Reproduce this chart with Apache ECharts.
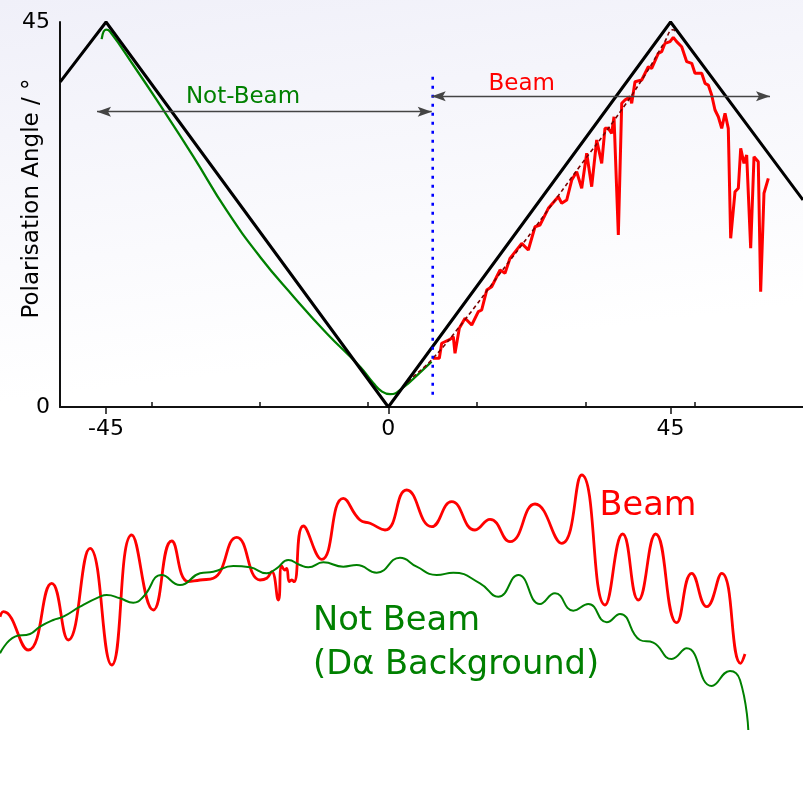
<!DOCTYPE html>
<html><head><meta charset="utf-8">
<script src="https://cdn.jsdelivr.net/npm/echarts@6/dist/echarts.min.js"></script>
<style>html,body{margin:0;padding:0;background:#fff}#c{width:803px;height:792px}</style>
</head><body><div id="c"></div>
<script>
// ---- tick labels ----
const xTickLabels = [-45, 0, 45];
const xMinorTicks = [-37.67, -20.45, -3.24, 14.14, 31.52, 48.89];
const yTickLabels = [0, 45];

// ---- top panel: polarisation angle ----
const modelLine = [[-52.3, 38.0], [-45, 45], [0, 0], [45, 45], [66.1, 24.2]];
const notBeamAngle = [[-45.7, 43.0], [-45.0, 44.1], [-44.4, 43.9], [-40.5, 39.8], [-36.4, 35.3], [-31.1, 29.3],
  [-25.8, 23.0], [-20.5, 17.6], [-15.1, 12.9], [-9.8, 8.6], [-4.5, 4.7], [-2.4, 2.8], [-1.0, 1.8],
  [0.3, 1.5], [2.4, 2.3], [5.0, 4.0], [6.9, 5.3]];
const beamAngle = [[7.08, 5.69], [8.13, 5.69], [8.51, 7.45], [9.84, 7.91], [10.36, 8.22], [10.63, 6.28],
  [11.32, 9.20], [12.23, 10.37], [13.30, 9.58], [14.35, 11.14], [14.89, 11.34], [15.69, 13.67],
  [16.48, 14.06], [17.81, 16.01], [18.60, 15.63], [19.40, 17.38], [21.27, 19.13], [22.32, 18.35],
  [23.39, 21.07], [24.18, 21.27], [25.51, 23.22], [27.10, 24.58], [27.64, 23.81], [28.44, 24.19],
  [29.24, 26.53], [30.03, 27.50], [30.83, 25.56], [31.63, 29.65], [32.42, 25.75], [33.22, 31.21],
  [34.02, 28.48], [34.54, 32.57], [35.07, 32.57], [35.61, 31.99], [35.98, 33.93], [36.67, 20.10],
  [37.21, 35.50], [37.73, 35.88], [38.53, 36.27], [38.80, 35.50], [39.33, 38.02], [40.40, 38.22],
  [41.45, 39.77], [41.99, 39.59], [43.04, 41.34], [43.58, 41.53], [44.11, 42.51], [44.91, 42.70],
  [45.43, 43.21], [45.97, 42.70], [46.77, 42.11], [47.57, 40.36], [48.37, 40.17], [48.89, 39.00],
  [49.96, 39.00], [50.49, 37.83], [51.01, 37.63], [51.55, 36.47], [52.08, 34.71], [52.61, 33.93],
  [53.15, 32.57], [53.68, 34.33], [54.20, 32.57], [54.58, 19.72], [55.27, 25.16], [55.80, 25.56],
  [56.18, 30.24], [56.70, 28.48], [57.13, 29.45], [57.77, 18.55], [58.30, 29.25], [58.98, 28.67],
  [59.36, 13.48], [59.89, 24.98], [60.58, 26.73]];
const beamFit = [[2.4, 2.3], [3.5, 3.2], [7.0, 5.6], [12.0, 10.0], [17.8, 15.6], [23.1, 20.7],
  [30.5, 28.1], [36.0, 33.5], [41.0, 38.9], [44.0, 42.6], [45.4, 44.1], [46.0, 43.7]];
const boundaryLine = [[7.08, 38.6], [7.08, 1.05]];
const notBeamSpan = [[-46.44, 34.51], [6.92, 34.51]];
const beamSpan = [[6.92, 36.31], [60.85, 36.31]];

// ---- bottom panel: spectra (arbitrary units) ----
const beamSpectrum = [[0, 143.3], [3.3, 148.3], [28.3, 110], [51.7, 176.7], [68.3, 120], [90, 211.7],
  [111.7, 95], [131.7, 225], [153.3, 150], [171.7, 219], [188.3, 178.3], [200, 180], [213.3, 181.7],
  [236.7, 222.7], [260, 180], [266.7, 181.7], [271.7, 188.3], [278.3, 160], [281.7, 194], [285, 190],
  [286.7, 191.7], [289.3, 178.3], [291.7, 180], [294, 178.3], [303.3, 234], [321.7, 200.7],
  [343.3, 261.7], [360, 240], [370, 236.7], [385, 230], [406.7, 270], [431.7, 233.3], [451.7, 258.3],
  [475, 230], [490, 240.7], [510, 218.3], [535, 256], [561.7, 216.7], [581.7, 285], [605, 155],
  [622.7, 226], [638.3, 160], [655.7, 226], [676.7, 137.3], [691.7, 186.7], [706.7, 153.3],
  [721.7, 186.7], [740.7, 96.7], [745, 106]];
const notBeamSpectrum = [[0, 106.7], [15, 123.3], [30, 126], [40, 133.3], [53.3, 140], [63.3, 143.3],
  [80, 153.3], [100, 163.3], [106.7, 165], [120, 161.7], [133.3, 157.3], [143.3, 163.3], [161.7, 185],
  [180, 175], [200, 186.7], [213.3, 188.3], [233.3, 194], [250, 192.7], [266.7, 186.7], [276.7, 191.7],
  [288.3, 200], [300, 195], [308.3, 192.7], [323.3, 197.7], [343.3, 193.3], [356.7, 195], [376.7, 187.3],
  [400, 202.3], [416.7, 193.3], [436.7, 185], [453.3, 187.3], [480, 176.7], [498.3, 163.3], [518.3, 185],
  [540, 156], [555, 166.7], [573.3, 149.3], [588.3, 156], [606.7, 137.7], [620, 146], [640, 120],
  [653.3, 117.3], [671.7, 101], [686.7, 111.7], [711.7, 74], [730, 89], [740, 80], [748.3, 30]];

const FONT = 'DejaVu Sans';
const arrowHead = 'path://M-7,-14 M7,14 M0,0 L2.5,14 L0,11 L-2.5,14 Z';

function txt(x, y, text, color, size, align) {
  return {type: 'text', x: x, y: y,
    style: {text: text, fill: color, font: size + 'px "DejaVu Sans"',
      align: align, verticalAlign: 'middle', textAlign: align, textVerticalAlign: 'middle'}};
}

const chart = echarts.init(document.getElementById('c'), null, {renderer: 'canvas'});
chart.setOption({
  animation: false,
  textStyle: {fontFamily: FONT},
  graphic: [
    {type: 'rect', z: -10, silent: true, shape: {x: 0, y: 0, width: 803, height: 792},
      style: {fill: new echarts.graphic.LinearGradient(0, 0, 0.12, 1, [
        {offset: 0, color: '#f0f0f9'}, {offset: 0.5, color: '#ffffff'}, {offset: 1, color: '#ffffff'}])}},
    Object.assign(txt(31.7, 198.5, 'Polarisation Angle / °', '#000', 23, 'center'), {rotation: Math.PI / 2}),
    txt(243, 97.5, 'Not-Beam', '#008000', 23, 'center'),
    txt(521.7, 84, 'Beam', '#ff0000', 23, 'center'),
    txt(648, 506.5, 'Beam', '#ff0000', 33.5, 'center'),
    txt(313, 621, 'Not Beam', '#008000', 33.7, 'left'),
    txt(313, 665.5, '(Dα Background)', '#008000', 33.7, 'left')
  ],
  grid: [
    {left: 60, right: 0, top: 22, height: 385, containLabel: false},
    {left: 0, right: 0, top: 440, height: 320, containLabel: false}
  ],
  xAxis: [
    {type: 'value', gridIndex: 0, min: -52.34, max: 66.11, position: 'bottom',
      axisLine: {show: true, onZero: false, lineStyle: {color: '#111', width: 2}},
      axisTick: {show: true, inside: false, length: 7, customValues: xTickLabels, lineStyle: {color: '#111', width: 1.5}},
      axisLabel: {show: true, customValues: xTickLabels, margin: 11, color: '#000', fontSize: 22, fontFamily: FONT},
      splitLine: {show: false}},
    {type: 'value', gridIndex: 0, min: -52.34, max: 66.11, position: 'bottom',
      axisLine: {show: false},
      axisTick: {show: true, inside: true, length: 5, customValues: xMinorTicks, lineStyle: {color: '#111', width: 1.5}},
      axisLabel: {show: false, customValues: xMinorTicks},
      splitLine: {show: false}},
    {type: 'value', gridIndex: 1, min: 0, max: 803, show: false}
  ],
  yAxis: [
    {type: 'value', gridIndex: 0, min: 0, max: 45,
      axisLine: {show: true, onZero: false, lineStyle: {color: '#111', width: 2}},
      axisTick: {show: false},
      axisLabel: {show: true, customValues: yTickLabels, margin: 10, color: '#000', fontSize: 22, fontFamily: FONT},
      splitLine: {show: false}},
    {type: 'value', gridIndex: 1, min: 0, max: 320, show: false}
  ],
  series: [
    {type: 'line', name: 'Not-Beam', xAxisIndex: 0, yAxisIndex: 0, data: notBeamAngle, smooth: true,
      symbol: 'none', lineStyle: {color: '#008000', width: 2.3}},
    {type: 'line', name: 'Beam', xAxisIndex: 0, yAxisIndex: 0, data: beamAngle, smooth: false,
      symbol: 'none', lineStyle: {color: '#ff0000', width: 3}},
    {type: 'line', name: 'Fit', xAxisIndex: 0, yAxisIndex: 0, data: beamFit, smooth: true,
      symbol: 'none', lineStyle: {color: '#7a0000', width: 1.6, type: [4, 3]}},
    {type: 'line', name: 'Model', xAxisIndex: 0, yAxisIndex: 0, data: modelLine, smooth: false,
      symbol: 'none', lineStyle: {color: '#000', width: 3}},
    {type: 'line', name: 'Boundary', xAxisIndex: 0, yAxisIndex: 0, data: boundaryLine,
      symbol: 'none', lineStyle: {color: '#0000ff', width: 2.6, type: [3, 6]}},
    {type: 'line', name: 'Spans', xAxisIndex: 0, yAxisIndex: 0, data: [], symbol: 'none',
      markLine: {silent: true, symbol: [arrowHead, arrowHead], symbolSize: 28, label: {show: false},
        lineStyle: {color: '#444', width: 1.3, type: 'solid'},
        emphasis: {disabled: true},
        data: [
          [{coord: notBeamSpan[0]}, {coord: notBeamSpan[1]}],
          [{coord: beamSpan[0]}, {coord: beamSpan[1]}]
        ]}},
    {type: 'line', name: 'Beam spectrum', xAxisIndex: 2, yAxisIndex: 1, data: beamSpectrum, smooth: 0.5,
      symbol: 'none', lineStyle: {color: '#ff0000', width: 2.8}},
    {type: 'line', name: 'Not Beam spectrum', xAxisIndex: 2, yAxisIndex: 1, data: notBeamSpectrum, smooth: 0.5,
      symbol: 'none', lineStyle: {color: '#008000', width: 2}}
  ]
});
</script></body></html>
